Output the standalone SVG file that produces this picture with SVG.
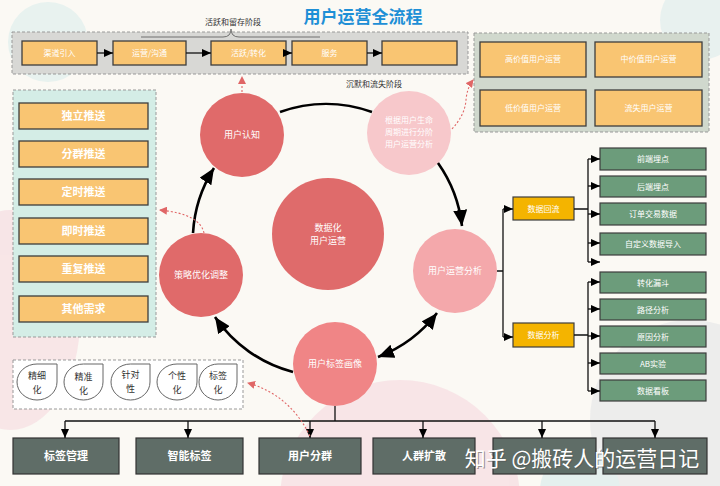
<svg xmlns="http://www.w3.org/2000/svg" width="720" height="486" viewBox="0 0 720 486">
<defs>
<style>
text{font-family:"Noto Sans CJK SC","Noto Sans",sans-serif;text-anchor:middle}
.ob{fill:#f9c572;stroke:#3d3d3d;stroke-width:1.3}
.gb{fill:#6c9c7b;stroke:#3d3d3d;stroke-width:1.2}
.yb{fill:#f4b400;stroke:#3d3d3d;stroke-width:1.2}
.db{fill:#5f6d67;stroke:#333;stroke-width:1.2}
.panel{stroke:#999;stroke-width:1;stroke-dasharray:3 2}
.t8{font-size:8px;fill:#fff}
.t9{font-size:9px;fill:#fff}
.tl{font-size:11px;fill:#fff;font-weight:bold}
.tb{font-size:11px;fill:#fff;font-weight:bold}
.ln{fill:none;stroke:#111;stroke-width:1.3}
.ring{fill:none;stroke:#000;stroke-width:2.6}
.red{fill:none;stroke:#e06666;stroke-width:1.1;stroke-dasharray:2 2}
.drop{fill:#fff;stroke:#666;stroke-width:1}
.dt{font-size:9px;fill:#333}
</style>
<marker id="ar" markerWidth="9" markerHeight="8" refX="9" refY="4" orient="auto" markerUnits="userSpaceOnUse"><path d="M0,0 L9,4 L0,8 Z" fill="#000"/></marker>
<marker id="big" markerWidth="16" markerHeight="14" refX="16" refY="7" orient="auto-start-reverse" markerUnits="userSpaceOnUse"><path d="M0,0 L16,7 L0,14 Z" fill="#000"/></marker>
<marker id="ra" markerWidth="8" markerHeight="8" refX="7" refY="4" orient="auto" markerUnits="userSpaceOnUse"><path d="M0,0 L8,4 L0,8 Z" fill="#e06666"/></marker>
</defs>
<rect width="720" height="486" fill="#fbf9f4"/>
<g id="background" opacity="0.9">
<circle cx="48" cy="42" r="40" fill="#e6f2ef"/>
<ellipse cx="10" cy="320" rx="70" ry="110" fill="#f7e3e6"/>
<circle cx="400" cy="500" r="120" fill="#f7e2e5"/>
<circle cx="690" cy="420" r="100" fill="#ececec"/>
<circle cx="700" cy="20" r="40" fill="#e6f0ee"/>
<circle cx="580" cy="490" r="40" fill="#e3f0ee"/>
</g>
<text x="363" y="23" style="font-size:17px;font-weight:bold;fill:#1e8fd6">用户运营全流程</text>
<g id="top-panel">
<rect class="panel" x="12" y="32" width="456" height="42" fill="#d8d8d5"/>
<path d="M141,37 L223,37 Q231,37 231,29 Q231,37 239,37 L320,37" fill="none" stroke="#555" stroke-width="0.8"/>
<text x="233" y="25" style="font-size:8px;fill:#333">活跃和留存阶段</text>
</g>
<g id="n-qudao"><rect class="ob" x="22" y="41" width="75" height="24"/><text class="t8" x="59.5" y="56">渠道引入</text></g>
<g id="n-yunying"><rect class="ob" x="113" y="41" width="73" height="24"/><text class="t8" x="149.5" y="56">运营/沟通</text></g>
<g id="n-huoyue"><rect class="ob" x="211" y="41" width="75" height="24"/><text class="t8" x="248.5" y="56">活跃/转化</text></g>
<g id="n-fuwu"><rect class="ob" x="292" y="41" width="75" height="24"/><text class="t8" x="329.5" y="56">服务</text></g>
<g id="n-empty"><rect class="ob" x="382" y="41" width="75" height="24"/></g>
<text x="374" y="87" style="font-size:8px;fill:#333">沉默和流失阶段</text>
<g id="right-panel">
<rect class="panel" x="474" y="33" width="235" height="99" fill="#d0d8cd"/>
</g>
<g id="n-high"><rect class="ob" x="480" y="42" width="106" height="35"/><text class="t8" x="533" y="62">高价值用户运营</text></g>
<g id="n-mid"><rect class="ob" x="595" y="42" width="107" height="35"/><text class="t8" x="648.5" y="62">中价值用户运营</text></g>
<g id="n-low"><rect class="ob" x="480" y="90" width="106" height="36"/><text class="t8" x="533" y="111">低价值用户运营</text></g>
<g id="n-lost"><rect class="ob" x="595" y="90" width="107" height="36"/><text class="t8" x="648.5" y="111">流失用户运营</text></g>
<g id="left-panel">
<rect class="panel" x="13" y="90" width="143" height="247" fill="#d4ede6"/>
</g>
<g id="n-p1"><rect class="ob" x="19" y="103" width="129" height="26"/><text class="tl" x="83.5" y="120">独立推送</text></g>
<g id="n-p2"><rect class="ob" x="19" y="141" width="129" height="26"/><text class="tl" x="83.5" y="158">分群推送</text></g>
<g id="n-p3"><rect class="ob" x="19" y="179" width="129" height="26"/><text class="tl" x="83.5" y="196">定时推送</text></g>
<g id="n-p4"><rect class="ob" x="19" y="218" width="129" height="26"/><text class="tl" x="83.5" y="235">即时推送</text></g>
<g id="n-p5"><rect class="ob" x="19" y="256" width="129" height="26"/><text class="tl" x="83.5" y="273">重复推送</text></g>
<g id="n-p6"><rect class="ob" x="19" y="296" width="129" height="26"/><text class="tl" x="83.5" y="313">其他需求</text></g>
<g id="pill-panel">
<rect class="panel" x="13" y="360" width="230" height="49" fill="#fff"/>
</g>
<g id="n-d1"><path class="drop" d="M57,364 L57,382 A20,18 0 0 1 37,400 A20,18 0 0 1 17,382 A20,18 0 0 1 37,364 Z"/><text class="dt" x="37" y="379">精细</text><text class="dt" x="37" y="393">化</text></g>
<g id="n-d2"><path class="drop" d="M103,364 L103,382 A19.5,18 0 0 1 83.5,400 A19.5,18 0 0 1 64,382 A19.5,18 0 0 1 83.5,364 Z"/><text class="dt" x="83.5" y="380">精准</text><text class="dt" x="83.5" y="394">化</text></g>
<g id="n-d3"><path class="drop" d="M150,364 L150,382 A19.5,18 0 0 1 130.5,400 A19.5,18 0 0 1 111,382 A19.5,18 0 0 1 130.5,364 Z"/><text class="dt" x="130.5" y="378">针对</text><text class="dt" x="130.5" y="392">性</text></g>
<g id="n-d4"><path class="drop" d="M197,364 L197,382 A20,18 0 0 1 177,400 A20,18 0 0 1 157,382 A20,18 0 0 1 177,364 Z"/><text class="dt" x="177" y="379">个性</text><text class="dt" x="177" y="393">化</text></g>
<g id="n-d5"><path class="drop" d="M237,364 L237,382 A19,18 0 0 1 218,400 A19,18 0 0 1 199,382 A19,18 0 0 1 218,364 Z"/><text class="dt" x="218" y="379">标签</text><text class="dt" x="218" y="393">化</text></g>
<g id="n-center"><circle cx="328" cy="234" r="56" fill="#df6b6b"/><text class="t9" x="328" y="231">数据化</text><text class="t9" x="328" y="244">用户运营</text></g>
<g id="n-renzhi"><circle cx="242" cy="135" r="42" fill="#e06a6a"/><text class="t9" x="242" y="138">用户认知</text></g>
<g id="n-shengming"><circle cx="409" cy="133" r="42" fill="#f7c8cb"/><text class="t8" x="409" y="123">根据用户生命</text><text class="t8" x="409" y="135">周期进行分阶</text><text class="t8" x="409" y="147">用户运营分析</text></g>
<g id="n-fenxi"><circle cx="455" cy="271" r="42" fill="#f4a8ab"/><text class="t9" x="455" y="274">用户运营分析</text></g>
<g id="n-huaxiang"><circle cx="335" cy="364" r="42" fill="#f08586"/><text class="t9" x="335" y="367">用户标签画像</text></g>
<g id="n-celue"><circle cx="201" cy="275" r="42" fill="#e06a6a"/><text class="t9" x="201" y="278">策略优化调整</text></g>
<g id="n-huiliu"><rect class="yb" x="513" y="197" width="61" height="23"/><text class="t8" x="543.5" y="211.5">数据回流</text></g>
<g id="n-fenxi2"><rect class="yb" x="513" y="323" width="61" height="24"/><text class="t8" x="543.5" y="338">数据分析</text></g>
<g id="n-g1"><rect class="gb" x="600" y="148" width="106" height="22"/><text class="t8" x="653" y="162">前端埋点</text></g>
<g id="n-g2"><rect class="gb" x="600" y="176" width="106" height="21"/><text class="t8" x="653" y="189.5">后端埋点</text></g>
<g id="n-g3"><rect class="gb" x="600" y="203" width="106" height="22"/><text class="t8" x="653" y="217">订单交易数据</text></g>
<g id="n-g4"><rect class="gb" x="600" y="233" width="106" height="22"/><text class="t8" x="653" y="247">自定义数据导入</text></g>
<g id="n-g5"><rect class="gb" x="600" y="272" width="106" height="21"/><text class="t8" x="653" y="285.5">转化漏斗</text></g>
<g id="n-g6"><rect class="gb" x="600" y="299" width="106" height="21"/><text class="t8" x="653" y="312.5">路径分析</text></g>
<g id="n-g7"><rect class="gb" x="600" y="326" width="106" height="21"/><text class="t8" x="653" y="339.5">原因分析</text></g>
<g id="n-g8"><rect class="gb" x="600" y="353" width="106" height="21"/><text class="t8" x="653" y="366.5">AB实验</text></g>
<g id="n-g9"><rect class="gb" x="600" y="380" width="106" height="21"/><text class="t8" x="653" y="393.5">数据看板</text></g>
<g id="n-b1"><rect class="db" x="13" y="438" width="106" height="36"/><text class="tb" x="66" y="460">标签管理</text></g>
<g id="n-b2"><rect class="db" x="136" y="438" width="107" height="36"/><text class="tb" x="189.5" y="460">智能标签</text></g>
<g id="n-b3"><rect class="db" x="259" y="438" width="102" height="36"/><text class="tb" x="310" y="460">用户分群</text></g>
<g id="n-b4"><rect class="db" x="373" y="438" width="102" height="36"/><text class="tb" x="424" y="460">人群扩散</text></g>
<g id="n-b5"><rect class="db" x="493" y="438" width="103" height="36"/></g>
<g id="n-b6"><rect class="db" x="603" y="438" width="104" height="36"/></g>
<g id="connectors">
<path class="ln" d="M97,53 H113" marker-end="url(#ar)"/>
<path class="ln" d="M186,53 H211" marker-end="url(#ar)"/>
<path class="ln" d="M286,53 H292" marker-end="url(#ar)"/>
<path class="ln" d="M367,53 H382" marker-end="url(#ar)"/>
<path class="ring" d="M280,112 A136,136 0 0 1 372,112"/>
<path class="ring" d="M438,163 A136,136 0 0 1 462,226" marker-end="url(#big)"/>
<path class="ring" d="M437,313 A136,136 0 0 1 378,357" marker-start="url(#big)" marker-end="url(#big)"/>
<path class="ring" d="M293,372 A136,136 0 0 1 215,317" marker-end="url(#big)"/>
<path class="ring" d="M193,233 A136,136 0 0 1 214,168" marker-end="url(#big)"/>
<path class="ln" d="M497,271 H503 M503,209 V337"/>
<path class="ln" d="M503,209 H513" marker-end="url(#ar)"/>
<path class="ln" d="M503,337 H513" marker-end="url(#ar)"/>
<path class="ln" d="M574,209 H588 M588,159 V262"/>
<path class="ln" d="M588,159 H600" marker-end="url(#ar)"/>
<path class="ln" d="M588,186 H600" marker-end="url(#ar)"/>
<path class="ln" d="M588,214 H600" marker-end="url(#ar)"/>
<path class="ln" d="M588,243 H600" marker-end="url(#ar)"/>
<path class="ln" d="M588,262 H600" marker-end="url(#ar)"/>
<path class="ln" d="M574,335 H588 M588,282 V391"/>
<path class="ln" d="M588,282 H600" marker-end="url(#ar)"/>
<path class="ln" d="M588,309 H600" marker-end="url(#ar)"/>
<path class="ln" d="M588,336 H600" marker-end="url(#ar)"/>
<path class="ln" d="M588,363 H600" marker-end="url(#ar)"/>
<path class="ln" d="M588,391 H600" marker-end="url(#ar)"/>
<path class="ln" d="M335,406 V421 M65,421 H655"/>
<path class="ln" d="M65,421 V438" marker-end="url(#ar)"/>
<path class="ln" d="M188,421 V438" marker-end="url(#ar)"/>
<path class="ln" d="M310,421 V438" marker-end="url(#ar)"/>
<path class="ln" d="M423,421 V438" marker-end="url(#ar)"/>
<path class="ln" d="M542,421 V438" marker-end="url(#ar)"/>
<path class="ln" d="M655,421 V438" marker-end="url(#ar)"/>
<path class="red" d="M242,92 V77" marker-end="url(#ra)"/>
<path class="red" d="M452,129 Q465,115 466,100 Q467,88 473,80" marker-end="url(#ra)"/>
<path class="red" d="M204,233 Q200,214 160,210" marker-end="url(#ra)"/>
<path class="red" d="M310,436 Q290,395 248,383" marker-end="url(#ra)"/>
</g>
<g id="watermark">
<text x="582" y="466" style="font-size:21px;fill:#555;opacity:0.6" transform="translate(1,1)">知乎 @搬砖人的运营日记</text>
<text x="582" y="466" style="font-size:21px;fill:#fff">知乎 @搬砖人的运营日记</text>
</g>
</svg>
